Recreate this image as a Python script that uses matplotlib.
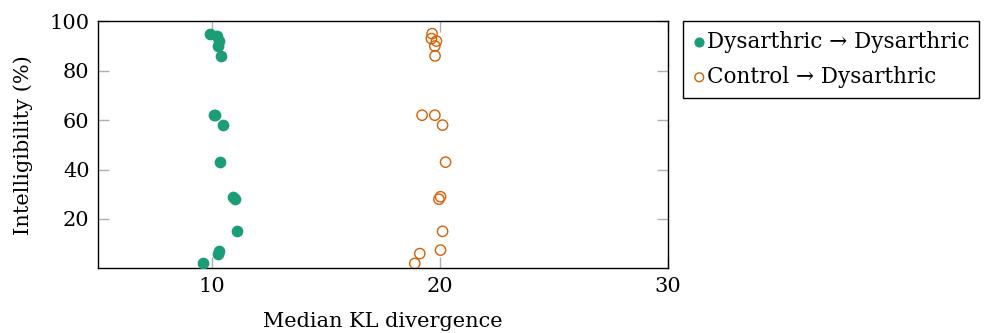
import matplotlib
matplotlib.use("Agg")
import matplotlib.pyplot as plt

plt.rcParams['font.family'] = ['DejaVu Serif', 'DejaVu Sans']

# Dysarthric -> Dysarthric
dd_kl = [9.93, 10.2, 10.3, 10.26, 10.4, 10.09, 10.12, 10.48, 10.37, 10.92, 11.0, 11.1, 10.31, 10.26, 9.6]
dd_int = [95, 94, 92, 90, 86, 62, 62, 58, 43, 29, 28, 15, 7, 6, 2]

# Control -> Dysarthric
cd_kl = [19.66, 19.63, 19.85, 19.78, 19.79, 19.22, 19.78, 20.12, 20.25, 20.03, 19.96, 20.12, 20.03, 19.12, 18.9]
cd_int = [95, 93, 92, 90, 86, 62, 62, 58, 43, 29, 28, 15, 7.4, 6, 2]

xticks = [10, 20, 30]
yticks = [20, 40, 60, 80, 100]

fig = plt.figure(figsize=(9.84, 3.33), dpi=100)
ax = fig.add_axes([0.0996, 0.194, 0.579, 0.742])

ax.scatter(dd_kl, dd_int, s=55, color="#1b9e77", edgecolors="#1b9e77",
           label="Dysarthric \u2192 Dysarthric", zorder=3)
ax.scatter(cd_kl, cd_int, s=55, facecolors="none", edgecolors="#d95f02",
           linewidths=1.0, label="Control \u2192 Dysarthric", zorder=3)

ax.set_xlim(5, 30)
ax.set_ylim(0, 100)
ax.set_xticks(xticks)
ax.set_yticks(yticks)
ax.tick_params(direction="in", length=8, width=1, color="#b0b0b0",
               top=True, right=True, labelsize=15, pad=6)
for s in ax.spines.values():
    s.set_linewidth(1)

ax.set_xlabel("Median KL divergence", fontsize=15, labelpad=12)
ax.set_ylabel("Intelligibility (%)", fontsize=15, labelpad=12)

ax.legend(loc="upper left", bbox_to_anchor=(1.027, 1.0), fontsize=15.5,
          frameon=True, fancybox=False, edgecolor="black", framealpha=1,
          handletextpad=0.05, handlelength=0.6, borderpad=0.45,
          labelspacing=0.6, markerscale=0.85, borderaxespad=0)

fig.savefig("out.png", dpi=100)
